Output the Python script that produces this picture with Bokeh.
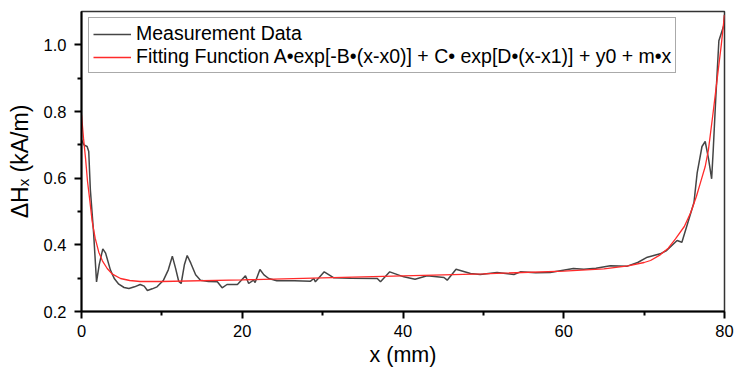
from bokeh.plotting import figure
from bokeh.models import Range1d, FixedTicker, NumeralTickFormatter, Legend, LegendItem
from bokeh.embed import file_html
from bokeh.resources import INLINE

meas_x = [0.0, 0.3, 0.7, 0.9, 1.1, 1.5, 1.87, 2.2, 2.65, 3.0, 3.6, 4.1, 4.64, 5.3, 5.9, 6.6, 7.3, 7.8,
          8.2, 8.8, 9.4, 10.2, 10.8, 11.3, 11.7, 12.1, 12.4, 12.8, 13.15, 13.6, 14.2, 14.8, 15.8, 16.9,
          17.5, 18.1, 19.4, 20.4, 20.8, 21.4, 21.6, 22.2, 22.7, 23.3, 24.3, 26.5, 28.5, 28.9, 29.1,
          30.2, 31.4, 33.5, 36.8, 37.2, 38.35, 40.1, 41.5, 43.0, 45.1, 45.5, 46.6, 48.4, 49.6, 51.7,
          53.8, 54.6, 56.5, 58.3, 61.2, 62.5, 64.0, 65.8, 67.9, 69.2, 70.4, 72.0, 72.8, 74.1, 74.7,
          75.7, 76.2, 76.6, 77.2, 77.6, 78.0, 78.4, 78.6, 78.9, 79.3, 79.9, 80.0]
meas_y = [0.715, 0.700, 0.695, 0.680, 0.566, 0.438, 0.289, 0.340, 0.388, 0.375, 0.324, 0.298, 0.282,
          0.272, 0.269, 0.274, 0.281, 0.276, 0.263, 0.268, 0.274, 0.294, 0.325, 0.366, 0.330, 0.290,
          0.284, 0.340, 0.368, 0.345, 0.310, 0.294, 0.290, 0.289, 0.271, 0.281, 0.281, 0.307, 0.284,
          0.294, 0.287, 0.326, 0.310, 0.299, 0.292, 0.292, 0.291, 0.299, 0.289, 0.319, 0.301, 0.300,
          0.299, 0.289, 0.319, 0.304, 0.297, 0.307, 0.302, 0.294, 0.327, 0.314, 0.311, 0.317, 0.311,
          0.319, 0.316, 0.317, 0.329, 0.327, 0.330, 0.337, 0.336, 0.347, 0.363, 0.373, 0.383, 0.413,
          0.408, 0.487, 0.527, 0.616, 0.695, 0.710, 0.660, 0.598, 0.685, 0.834, 1.012, 1.057, 1.090]

# Fitting function curve
fit_x = [0, 0.25, 0.5, 0.75, 1.0, 1.33, 1.7, 2.15, 2.6, 3.2, 3.8, 4.85, 6, 7.3, 10, 20, 30, 40, 50,
         60, 65, 68, 70, 70.8, 72, 73, 73.9, 75, 75.8, 76.5, 77, 77.6, 78, 78.6, 79.2, 79.6, 80]
fit_y = [0.79, 0.72, 0.66, 0.59, 0.54, 0.47, 0.42, 0.378, 0.352, 0.329, 0.313, 0.299, 0.293, 0.290,
         0.290, 0.295, 0.301, 0.307, 0.313, 0.321, 0.328, 0.337, 0.347, 0.353, 0.370, 0.390, 0.418,
         0.455, 0.497, 0.545, 0.586, 0.635, 0.685, 0.800, 0.920, 1.000, 1.090]

x_major = [0, 20, 40, 60, 80]
x_minor = [10, 30, 50, 70]
y_major = [0.2, 0.4, 0.6, 0.8, 1.0]
y_minor = [0.3, 0.5, 0.7, 0.9]

FONT = "Liberation Sans"

p = figure(width=734, height=369, output_backend="svg", toolbar_location=None,
           x_range=Range1d(0, 80), y_range=Range1d(0.2, 1.1),
           min_border_left=81, min_border_right=10, min_border_top=11, min_border_bottom=55)
p.xgrid.visible = False
p.ygrid.visible = False
p.outline_line_color = "#333333"
p.outline_line_width = 1.5
p.background_fill_color = "white"
p.border_fill_color = "white"

r_meas = p.line(meas_x, meas_y, line_color="#454545", line_width=1.5)
r_fit = p.line(fit_x, fit_y, line_color="#ff2a2a", line_width=1.3)

p.xaxis.ticker = FixedTicker(ticks=x_major, minor_ticks=x_minor)
p.yaxis.ticker = FixedTicker(ticks=y_major, minor_ticks=y_minor)
p.xaxis.formatter = NumeralTickFormatter(format="0")
p.yaxis.formatter = NumeralTickFormatter(format="0.0")

for ax in (p.xaxis[0], p.yaxis[0]):
    ax.axis_line_width = 2
    ax.axis_line_color = "black"
    ax.major_tick_line_width = 2
    ax.minor_tick_line_width = 2
    ax.major_tick_line_color = "black"
    ax.minor_tick_line_color = "black"
    ax.major_tick_in = 0
    ax.major_tick_out = 7
    ax.minor_tick_in = 0
    ax.minor_tick_out = 4
    ax.major_label_text_font = FONT
    ax.major_label_text_font_size = "16.5px"
    ax.major_label_text_color = "black"
    ax.axis_label_text_font = FONT
    ax.axis_label_text_font_size = "21.5px"
    ax.axis_label_text_font_style = "normal"
    ax.axis_label_text_color = "black"

p.yaxis.axis_label_text_font_size = "23px"
p.xaxis.axis_label = "x (mm)"
p.yaxis.axis_label = "ΔHₓ (kA/m)"
p.xaxis.major_label_standoff = 6
p.yaxis.major_label_standoff = 8
p.xaxis.axis_label_standoff = 3
p.yaxis.axis_label_standoff = 8

legend = Legend(items=[LegendItem(label="Measurement Data", renderers=[r_meas]),
                       LegendItem(label="Fitting Function A•exp[-B•(x-x0)] + C• exp[D•(x-x1)] + y0 + m•x",
                                  renderers=[r_fit])],
                location=(7, 238))
legend.label_text_font = FONT
legend.label_text_font_size = "19.5px"
legend.label_text_color = "black"
legend.label_height = 22
legend.glyph_height = 22
legend.glyph_width = 38
legend.label_standoff = 5
legend.padding = 4
legend.spacing = 0
legend.margin = 0
legend.border_line_color = "#555555"
legend.border_line_width = 1
legend.background_fill_alpha = 1
p.add_layout(legend)

open("out.html", "w").write(file_html(p, INLINE))
